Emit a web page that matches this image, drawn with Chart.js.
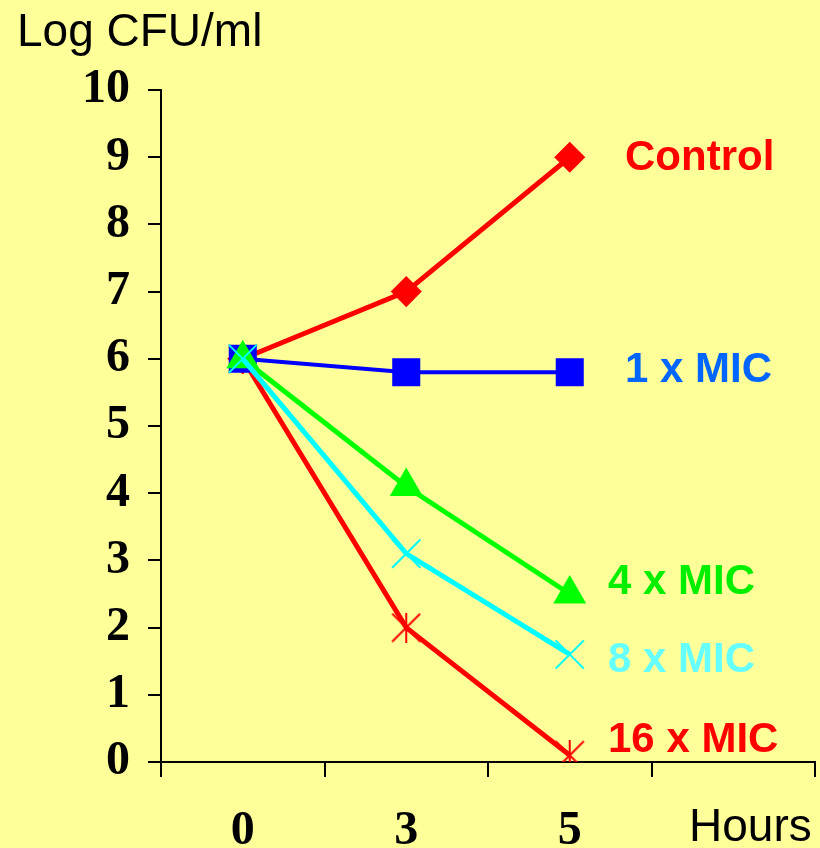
<!DOCTYPE html>
<html>
<head>
<meta charset="utf-8">
<script src="https://cdn.jsdelivr.net/npm/chart.js@4.4.1/dist/chart.umd.min.js"></script>
<style>
  html, body { margin: 0; padding: 0; background: #FFFF99; }
  #wrap { width: 820px; height: 848px; position: relative; }
</style>
</head>
<body>
<div id="wrap"><canvas id="myChart" width="820" height="848"></canvas></div>
<script>
// data
const hours = ["0", "3", "5", ""];
const control = [6, 7, 9];
const mic1 = [6, 5.8, 5.8];
const mic4 = [6, 4.1, 2.5];
const mic8 = [6, 3.1, 1.6];
const mic16 = [6, 2.0, 0.1];
const yTicks = [0, 1, 2, 3, 4, 5, 6, 7, 8, 9, 10];

const seriesNames = ["Control", "1 x MIC", "4 x MIC", "8 x MIC", "16 x MIC"];
const lineColors = ["#FF0000", "#0000FF", "#00FF00", "#00FFFF", "#FF0000"];
const textColors = ["#FF0000", "#0066FF", "#00EE00", "#66FFFF", "#FF0000"];

// asterisk marker (X plus vertical bar), like the spreadsheet "star"
function makeStar(color, size) {
    const c = document.createElement("canvas");
    c.width = size; c.height = size;
    const g = c.getContext("2d");
    g.strokeStyle = color;
    g.lineWidth = 2;
    g.beginPath();
    g.moveTo(1, 1); g.lineTo(size - 1, size - 1);
    g.moveTo(size - 1, 1); g.lineTo(1, size - 1);
    g.moveTo(size / 2, 0); g.lineTo(size / 2, size);
    g.stroke();
    return c;
}

// labels next to the lines, axis titles
const labelPlugin = {
    id: "labels",
    afterDraw(chart) {
        const ctx = chart.ctx;
        ctx.save();
        ctx.textBaseline = "middle";
        ctx.textAlign = "left";
        ctx.fillStyle = "#000";
        ctx.font = "46px 'Liberation Sans', Arial, sans-serif";
        ctx.fillText("Log CFU/ml", 17, 33);
        ctx.fillText("Hours", 689, 828);

        const pos = [[625, 158], [625, 370], [608, 582], [608, 660], [608, 740]];
        ctx.font = "bold 42px 'Liberation Sans', Arial, sans-serif";
        seriesNames.forEach((name, i) => {
            ctx.fillStyle = textColors[i];
            ctx.fillText(name, pos[i][0], pos[i][1]);
        });
        ctx.restore();
    }
};

const ctx = document.getElementById("myChart").getContext("2d");
new Chart(ctx, {
    type: "line",
    data: {
        labels: hours,
        datasets: [
            {
                label: seriesNames[0],
                data: control,
                borderColor: lineColors[0],
                backgroundColor: lineColors[0],
                borderWidth: 5,
                pointStyle: "rectRot",
                pointRadius: 12,
                order: 3
            },
            {
                label: seriesNames[1],
                data: mic1,
                borderColor: lineColors[1],
                backgroundColor: lineColors[1],
                borderWidth: 4,
                pointStyle: "rect",
                pointRadius: 17,
                order: 2
            },
            {
                label: seriesNames[2],
                data: mic4,
                borderColor: lineColors[2],
                backgroundColor: lineColors[2],
                borderWidth: 5,
                pointStyle: "triangle",
                pointRadius: 14,
                order: 1
            },
            {
                label: seriesNames[3],
                data: mic8,
                borderColor: lineColors[3],
                backgroundColor: lineColors[3],
                borderWidth: 5,
                pointStyle: "crossRot",
                pointRadius: 20,
                pointBorderWidth: 2,
                order: 0
            },
            {
                label: seriesNames[4],
                data: mic16,
                borderColor: lineColors[4],
                backgroundColor: lineColors[4],
                borderWidth: 5,
                pointStyle: makeStar("#FF0000", 30),
                order: 4
            }
        ]
    },
    options: {
        responsive: false,
        animation: false,
        layout: {autoPadding: false, padding: {top: 90, right: 5, left: 0, bottom: 0}},
        plugins: {
            legend: {display: false},
            tooltip: {enabled: false}
        },
        elements: {line: {tension: 0}},
        scales: {
            x: {
                type: "category",
                offset: true,
                grid: {
                    offset: true,
                    drawOnChartArea: false,
                    color: "#000",
                    lineWidth: 2,
                    tickLength: 15
                },
                border: {color: "#000", width: 2},
                ticks: {
                    color: "#000",
                    padding: 26,
                    maxRotation: 0,
                    font: {family: "'Liberation Serif', 'Times New Roman', serif", size: 48, weight: "bold"}
                },
                afterFit(scale) { scale.height = 86; }
            },
            y: {
                min: 0,
                max: 10,
                afterBuildTicks(scale) { scale.ticks = yTicks.map(v => ({value: v})); },
                grid: {
                    drawOnChartArea: false,
                    color: "#000",
                    lineWidth: 2,
                    tickLength: 13
                },
                border: {color: "#000", width: 2},
                ticks: {
                    color: "#000",
                    padding: 18,
                    font: {family: "'Liberation Serif', 'Times New Roman', serif", size: 48, weight: "bold"}
                },
                afterFit(scale) { scale.width = 161; }
            }
        }
    },
    plugins: [labelPlugin]
});
</script>
</body>
</html>
